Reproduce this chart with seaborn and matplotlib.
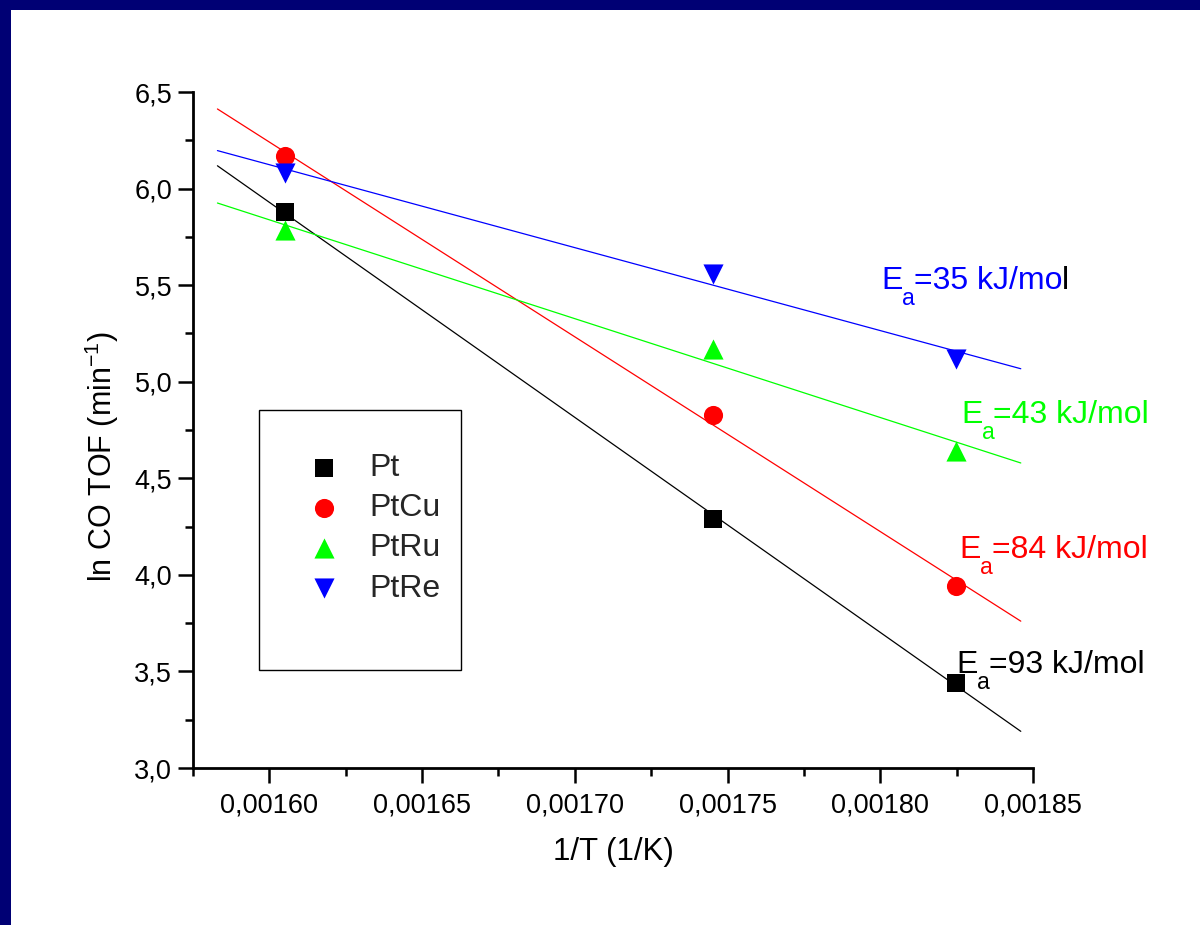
import numpy as np
import seaborn as sns
import matplotlib.pyplot as plt
from matplotlib.patches import Rectangle

# data
inv_T = [0.0016051, 0.0017452, 0.0018248]
series = ["Pt", "PtCu", "PtRu", "PtRe"]
ln_tof_pt = [5.88, 4.29, 3.44]
ln_tof_ptcu = [6.17, 4.83, 3.94]
ln_tof_ptru = [5.785, 5.17, 4.64]
ln_tof_ptre = [6.08, 5.56, 5.12]
ea_labels = ["93", "84", "43", "35"]

x_ticks = [0.00160, 0.00165, 0.00170, 0.00175, 0.00180, 0.00185]
x_ticklabels = ["0,00160", "0,00165", "0,00170", "0,00175", "0,00180", "0,00185"]
y_ticks = [3.0, 3.5, 4.0, 4.5, 5.0, 5.5, 6.0, 6.5]
y_ticklabels = ["3,0", "3,5", "4,0", "4,5", "5,0", "5,5", "6,0", "6,5"]

sns.set_style("ticks")
plt.rcParams["font.family"] = ["Liberation Sans", "DejaVu Sans"]
plt.rcParams["mathtext.fontset"] = "custom"
plt.rcParams["mathtext.rm"] = "Liberation Sans"

fig = plt.figure(figsize=(12, 9.25), dpi=100, facecolor="#000074")
fig.add_artist(Rectangle((11 / 1200, 0), 1 - 11 / 1200, 1 - 10 / 925,
                         transform=fig.transFigure, facecolor="white",
                         edgecolor="none", zorder=-10))
ax = fig.add_axes([193 / 1200, 1 - 768 / 925, 840 / 1200, 676 / 925])
ax.set_facecolor("none")

values = [ln_tof_pt, ln_tof_ptcu, ln_tof_ptru, ln_tof_ptre]
colors = ["black", "#ff0000", "#00ff00", "#0000ff"]
markers = ["s", "o", "^", "v"]
sizes = [150, 190, 210, 210]

fit_x = np.array([0.001583, 0.001846])
for name, y, c, m, s in zip(series, values, colors, markers, sizes):
    k, b = np.polyfit(inv_T, y, 1)
    sns.lineplot(x=fit_x, y=k * fit_x + b, color=c, linewidth=0.9, ax=ax,
                 legend=False, zorder=2)
    sns.scatterplot(x=inv_T, y=y, marker=m, color=c, s=s, linewidth=0,
                    label=name, ax=ax, zorder=3)


def ea_text(x, y, ea, color, last_color=None):
    t1 = ax.text(x, y, "E", color=color, fontsize=23, va="baseline")
    t2 = ax.annotate("a", xy=(1, y), xycoords=(t1, "data"), xytext=(-0.5, -11.5),
                     textcoords="offset points", color=color, fontsize=16.5,
                     va="baseline", ha="left")
    rest = "=" + ea + " kJ/mol"
    if last_color is not None:
        rest = rest[:-1]
    t3 = ax.annotate(rest, xy=(1, y), xycoords=(t2, "data"), xytext=(-1, 0),
                     textcoords="offset points", color=color,
                     fontsize=23, va="baseline", ha="left")
    if last_color is not None:
        ax.annotate("l", xy=(1, y), xycoords=(t3, "data"), color=last_color,
                    fontsize=23, va="baseline", ha="left")


# activation energy labels
ea_pos = [(0.001825, 3.49), (0.001826, 4.086), (0.0018265, 4.785), (0.0018005, 5.479)]
for (tx, ty), ea, c in zip(ea_pos, ea_labels, colors):
    ea_text(tx, ty, ea, c, last_color="black" if c == "#0000ff" else None)

ax.set_xlim(0.001575, 0.00185)
ax.set_ylim(3.0, 6.5)
ax.set_xticks(x_ticks)
ax.set_xticklabels(x_ticklabels)
ax.set_yticks(y_ticks)
ax.set_yticklabels(y_ticklabels)
ax.set_xticks(np.arange(0.001575, 0.00185, 0.00005), minor=True)
ax.set_yticks(np.arange(3.25, 6.5, 0.5), minor=True)
ax.tick_params(which="major", length=11, width=1.8, labelsize=19.5, color="black",
               labelcolor="black", pad=7)
ax.tick_params(axis="y", which="major", pad=4)
ax.tick_params(which="minor", length=5.5, width=1.8, color="black")
for side in ["left", "bottom"]:
    ax.spines[side].set_linewidth(2.0)
    ax.spines[side].set_color("black")
sns.despine(ax=ax)

ax.set_xlabel("1/T (1/K)", fontsize=22.5, labelpad=13, color="black")
ax.set_ylabel("ln CO TOF (min$^{\\mathregular{-1}}$)", fontsize=22, color="black")
ax.yaxis.set_label_coords(-0.086, 0.4615)

# legend box
ax.add_patch(Rectangle((66 / 840, (768 - 670) / 676), 202 / 840, 260 / 676,
                       transform=ax.transAxes, facecolor="white",
                       edgecolor="black", linewidth=1.0, zorder=1))
leg = ax.legend(loc="upper left", bbox_to_anchor=((297 - 193) / 840, (768 - 453) / 676),
                frameon=False, fontsize=23, borderpad=0, handlelength=1.7,
                handletextpad=0.55, labelspacing=0.32, scatterpoints=1,
                borderaxespad=0)
leg.set_zorder(5)

fig.savefig("out.png", dpi=100, facecolor=fig.get_facecolor())
